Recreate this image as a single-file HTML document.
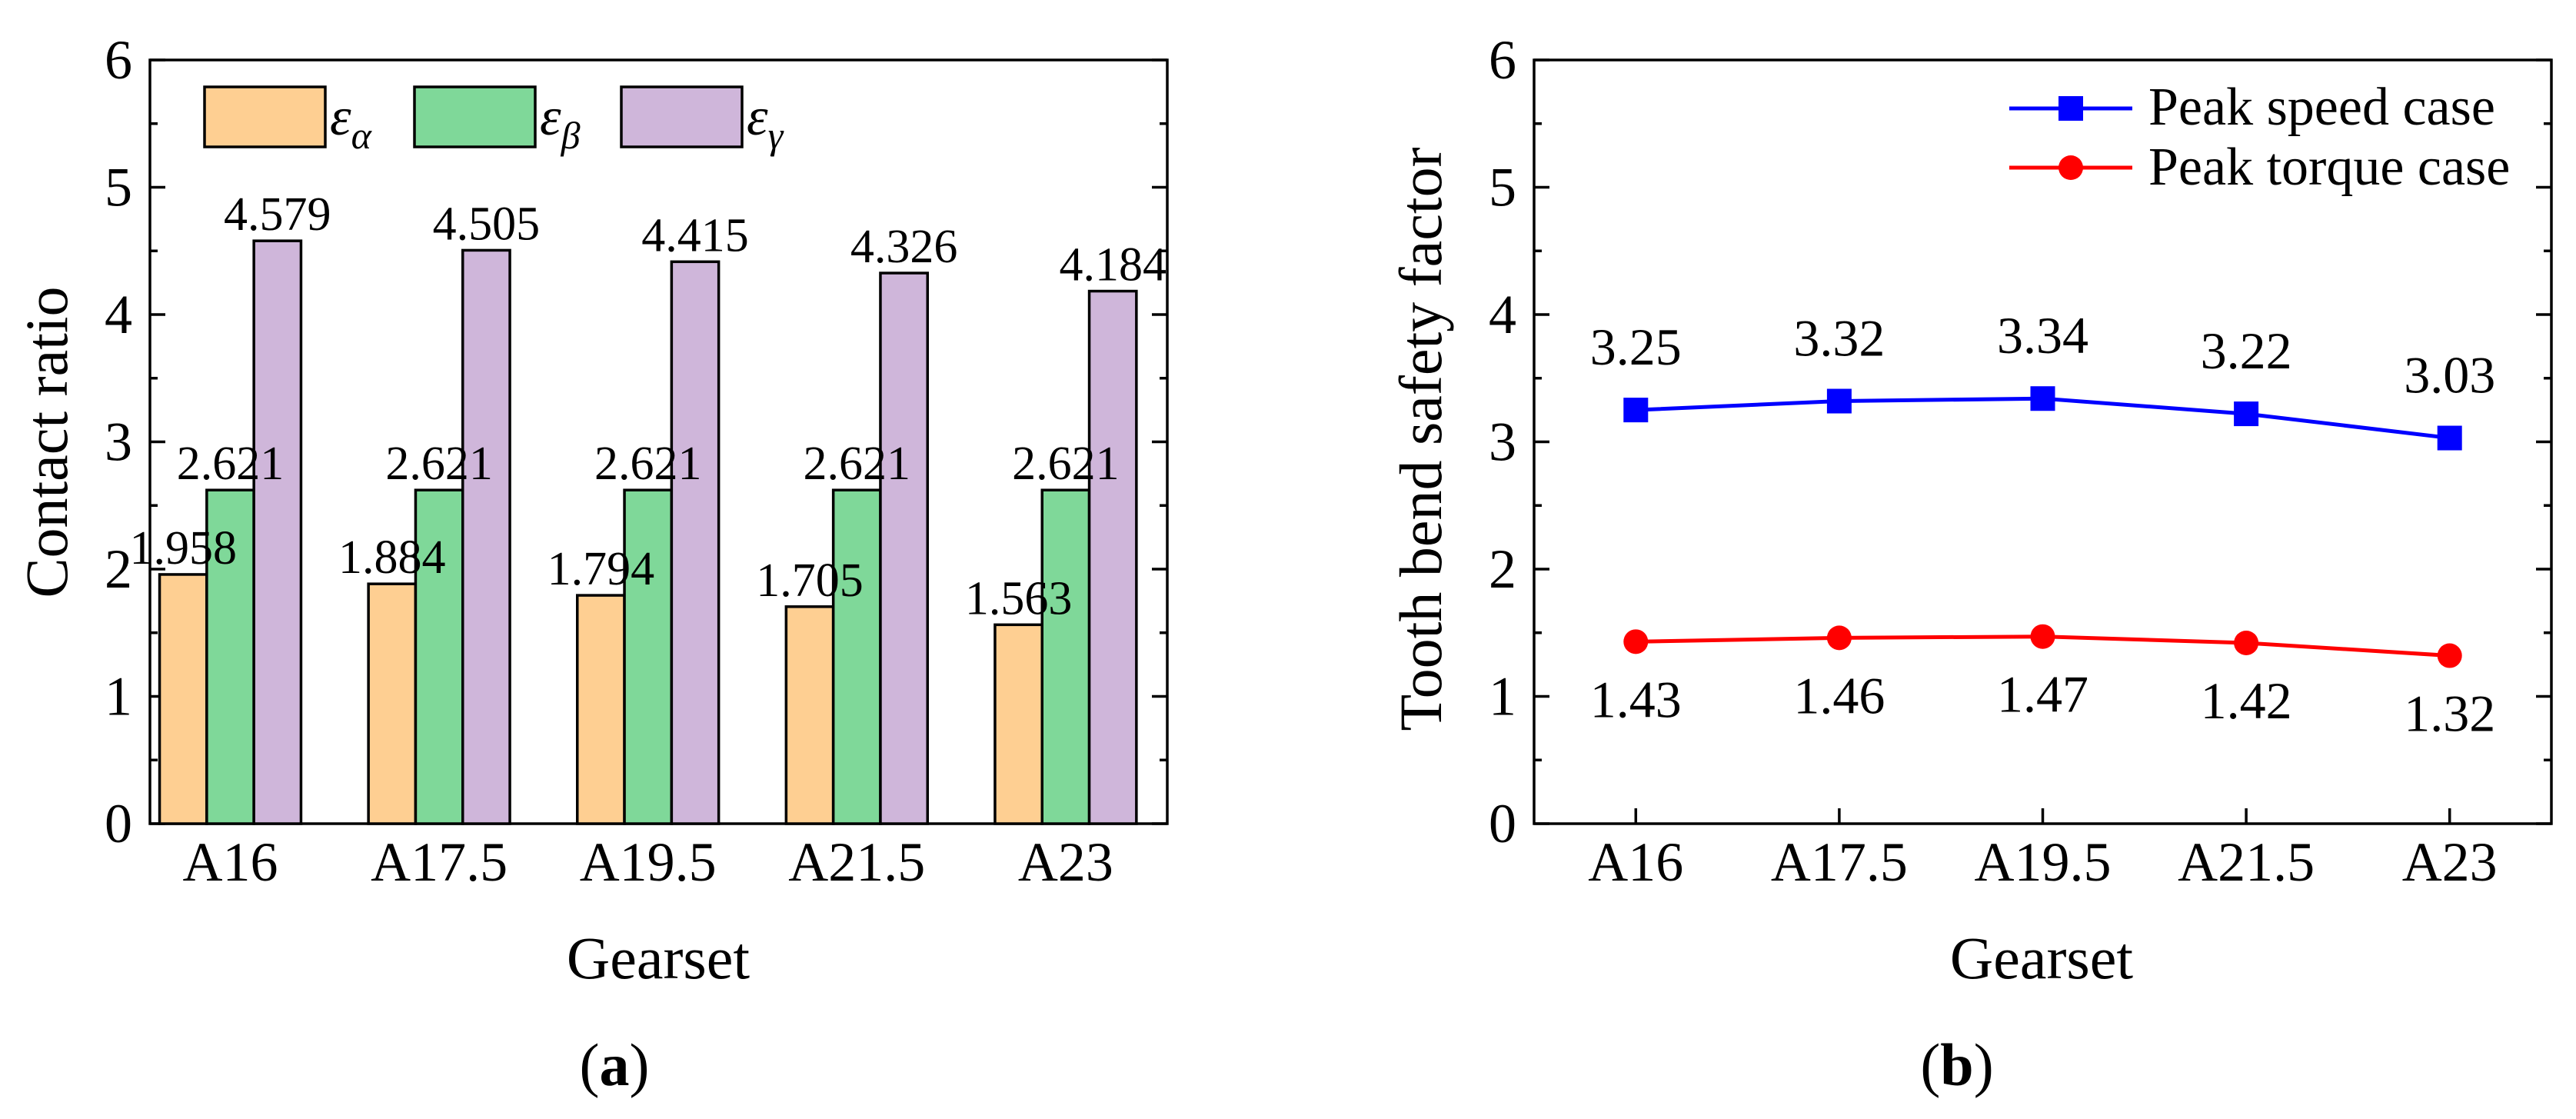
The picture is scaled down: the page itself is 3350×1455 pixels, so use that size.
<!DOCTYPE html>
<html><head><meta charset="utf-8"><style>
html,body{margin:0;padding:0;background:#fff}
svg{display:block;font-family:"Liberation Serif","Times New Roman",serif}
</style></head><body>
<svg id="fig" width="3350" height="1455" viewBox="0 0 3350 1455" xmlns="http://www.w3.org/2000/svg">
<g id="pa"></g>
<g id="pb"></g>
</svg>
<script>
const categories = ["A16","A17.5","A19.5","A21.5","A23"];
const epsAlpha = [1.958,1.884,1.794,1.705,1.563];
const epsBeta = [2.621,2.621,2.621,2.621,2.621];
const epsGamma = [4.579,4.505,4.415,4.326,4.184];
const yTicks = [0,1,2,3,4,5,6];
const speedCase = [3.25,3.32,3.34,3.22,3.03];
const torqueCase = [1.43,1.46,1.47,1.42,1.32];

const NS="http://www.w3.org/2000/svg";
function mk(parent,tag,attrs,text){const e=document.createElementNS(NS,tag);for(const k in attrs)e.setAttribute(k,attrs[k]);if(text!==undefined)e.textContent=text;parent.appendChild(e);return e;}
const TOP=78,BOT=1071;
function yS(v){return BOT-(v/6)*(BOT-TOP);}
function axes(g,L,R,X,xticks,labRight){
  const f=mk(g,'rect',{x:L,y:TOP,width:R-L,height:BOT-TOP,fill:'none',stroke:'#000','stroke-width':3.5});
  
  
  for(let v=0;v<=6;v+=0.5){
    const y=yS(v),len=(v%1===0)?20:10;
    mk(g,'line',{x1:L,x2:L+len,y1:y,y2:y,stroke:'#000','stroke-width':3.5});
    mk(g,'line',{x1:R,x2:R-len,y1:y,y2:y,stroke:'#000','stroke-width':3.5});
  }
  yTicks.forEach(v=>{
    const t=mk(g,'text',{x:labRight,y:yS(v)+24,'font-size':72,'text-anchor':'end'},String(v));
    
    
  });
  categories.forEach((c,i)=>{
    const x=X(i);
    if(xticks) mk(g,'line',{x1:x,x2:x,y1:BOT,y2:BOT-20,stroke:'#000','stroke-width':3.5});
    const t=mk(g,'text',{x:x,y:1145,'font-size':72,'text-anchor':'middle'},c);
    
    
  });
}
// Panel A
(function(){
  const g=document.getElementById('pa');
  const L=195,R=1518,step=271.6,pad=104.5;
  const X=i=>L+pad+i*step;
  axes(g,L,R,X,false,172);
  const bw=61.3;
  const series=[[epsAlpha,'#fecf92','alpha'],[epsBeta,'#7fd899','beta'],[epsGamma,'#cfb6da','gamma']];
  series.forEach(([arr,col,nm],s)=>{
    arr.forEach((v,i)=>{
      const x=X(i)+(s-1.5)*bw;
      const r=mk(g,'rect',{x:x,y:yS(v),width:bw,height:BOT-yS(v),fill:col,stroke:'#000','stroke-width':3.5});
      
      
    });
  });
  series.forEach(([arr,col,nm],s)=>{
    arr.forEach((v,i)=>{
      const cx=X(i)+(s-1)*bw;
      const t=mk(g,'text',{x:cx,y:yS(v)-14,'font-size':62,'text-anchor':'middle'},v.toFixed(3));
      
      
    });
  });
  const leg=[[266,'#fecf92','α'],[539,'#7fd899','β'],[808,'#cfb6da','γ']];
  leg.forEach(([x,col,sub])=>{
    const r=mk(g,'rect',{x:x,y:113,width:157,height:78,fill:col,stroke:'#000','stroke-width':3.5});
    
    
    const t=mk(g,'text',{x:x+163,y:175,'font-size':70,'font-style':'italic'});
    
    
    t.appendChild(document.createTextNode('ε'));
    mk(t,'tspan',{'font-size':50,dy:18},sub);
  });
  const yt=mk(g,'text',{x:0,y:0,'font-size':78,'text-anchor':'middle',transform:'translate(87,575) rotate(-90)'},'Contact ratio');
  
  
  const xt=mk(g,'text',{x:856,y:1272,'font-size':78,'text-anchor':'middle'},'Gearset');
  
  
  const cap=mk(g,'text',{x:799,y:1411,'font-size':78,'text-anchor':'middle'});
  
  
  cap.appendChild(document.createTextNode('('));
  mk(cap,'tspan',{'font-weight':'bold'},'a');
  cap.appendChild(document.createTextNode(')'));
})();
// Panel B
(function(){
  const g=document.getElementById('pb');
  const L=1995,R=3318,step=(R-L)/5;
  const X=i=>L+(i+0.5)*step;
  axes(g,L,R,X,true,1972);
  function line(arr,col,nm){
    const p=mk(g,'polyline',{points:arr.map((v,i)=>X(i)+','+yS(v)).join(' '),fill:'none',stroke:col,'stroke-width':5});
    
    
  }
  line(speedCase,'#0000ff','peak-speed');
  line(torqueCase,'#ff0000','peak-torque');
  speedCase.forEach((v,i)=>{
    const m=mk(g,'rect',{x:X(i)-16,y:yS(v)-16,width:32,height:32,fill:'#0000ff'});
    
    
    const t=mk(g,'text',{x:X(i),y:yS(v)-59,'font-size':68,'text-anchor':'middle'},v.toFixed(2));
    
    
  });
  torqueCase.forEach((v,i)=>{
    const m=mk(g,'circle',{cx:X(i),cy:yS(v),r:16,fill:'#ff0000'});
    
    
    const t=mk(g,'text',{x:X(i),y:yS(v)+98,'font-size':68,'text-anchor':'middle'},v.toFixed(2));
    
    
  });
  mk(g,'line',{x1:2613,x2:2773,y1:141,y2:141,stroke:'#0000ff','stroke-width':5});
  mk(g,'rect',{x:2677,y:125,width:32,height:32,fill:'#0000ff'});
  const l1=mk(g,'text',{x:2794,y:162,'font-size':70},'Peak speed case');
  
  
  mk(g,'line',{x1:2613,x2:2773,y1:218,y2:218,stroke:'#ff0000','stroke-width':5});
  mk(g,'circle',{cx:2693,cy:218,r:16,fill:'#ff0000'});
  const l2=mk(g,'text',{x:2794,y:240,'font-size':70},'Peak torque case');
  
  
  const yt=mk(g,'text',{x:0,y:0,'font-size':78,'text-anchor':'middle',transform:'translate(1874,571) rotate(-90)'},'Tooth bend safety factor');
  
  
  const xt=mk(g,'text',{x:2655,y:1272,'font-size':78,'text-anchor':'middle'},'Gearset');
  
  
  const cap=mk(g,'text',{x:2545,y:1411,'font-size':78,'text-anchor':'middle'});
  
  
  cap.appendChild(document.createTextNode('('));
  mk(cap,'tspan',{'font-weight':'bold'},'b');
  cap.appendChild(document.createTextNode(')'));
})();
</script>
</body></html>
